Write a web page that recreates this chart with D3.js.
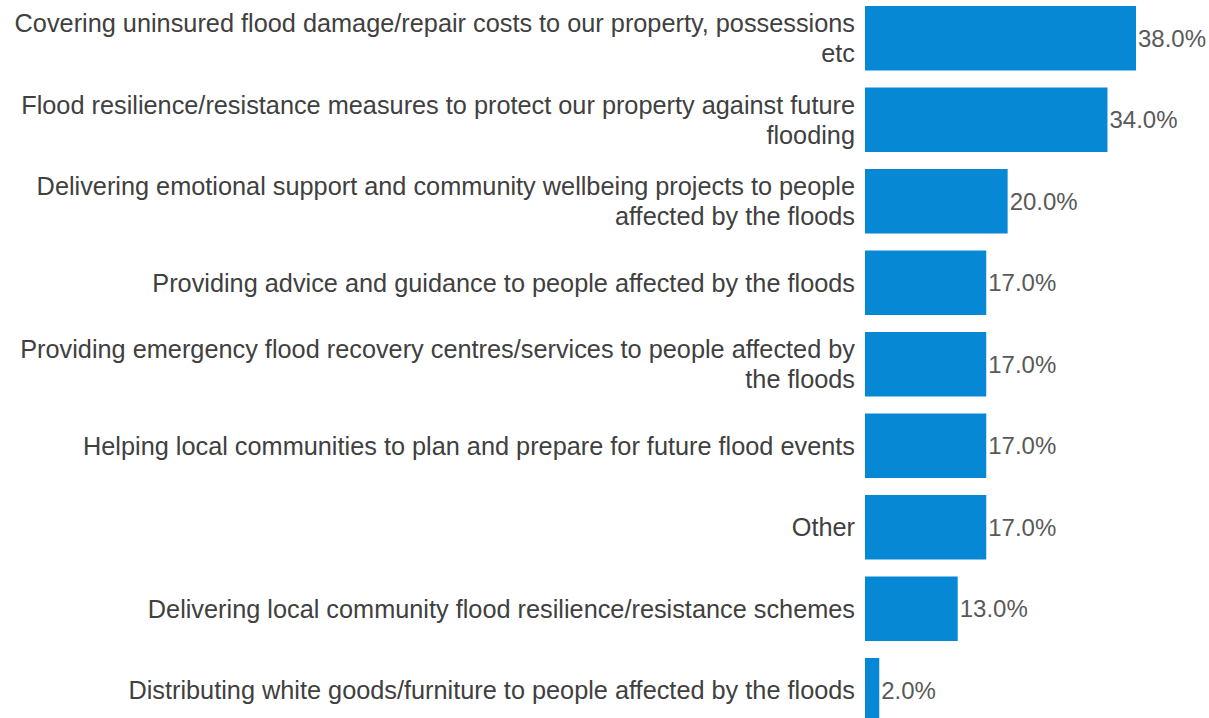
<!DOCTYPE html>
<html>
<head>
<meta charset="utf-8">
<script src="https://cdn.jsdelivr.net/npm/d3@7"></script>
<style>
  html, body { margin: 0; padding: 0; background: #ffffff; }
  svg { display: block; font-family: "Liberation Sans", Arial, sans-serif; }
</style>
</head>
<body>
<svg id="chart" width="1209" height="718"></svg>
<script>
// Category labels (line breaks mark where each label wraps)
const categories = [
  "Covering uninsured flood damage/repair costs to our property, possessions\netc",
  "Flood resilience/resistance measures to protect our property against future\nflooding",
  "Delivering emotional support and community wellbeing projects to people\naffected by the floods",
  "Providing advice and guidance to people affected by the floods",
  "Providing emergency flood recovery centres/services to people affected by\nthe floods",
  "Helping local communities to plan and prepare for future flood events",
  "Other",
  "Delivering local community flood resilience/resistance schemes",
  "Distributing white goods/furniture to people affected by the floods"
];

// Share of responses (%)
const values = [38.0, 34.0, 20.0, 17.0, 17.0, 17.0, 17.0, 13.0, 2.0];

const svg = d3.select("#chart");

const x = d3.scaleLinear().domain([0, 38]).range([865, 1136]);
const y = d3.scaleBand()
  .domain(d3.range(categories.length))
  .range([6, 722.5])
  .paddingInner(0.2086)
  .paddingOuter(0);

const rows = categories.map((c, i) => ({ label: c, value: values[i], i }));

// Bars
svg.append("g")
  .selectAll("rect")
  .data(rows)
  .join("rect")
  .attr("x", x(0))
  .attr("y", d => y(d.i))
  .attr("width", d => x(d.value) - x(0))
  .attr("height", y.bandwidth())
  .attr("fill", "#0788d4");

// Value labels
svg.append("g")
  .selectAll("text")
  .data(rows)
  .join("text")
  .attr("x", d => x(d.value) + 2)
  .attr("y", d => y(d.i) + y.bandwidth() / 2)
  .attr("dy", "0.35em")
  .attr("font-size", 24)
  .attr("fill", "#595959")
  .text(d => d.value.toFixed(1) + "%");

// Category labels, right-aligned beside the bars
const lineH = 30;
const lab = svg.append("g")
  .selectAll("text")
  .data(rows)
  .join("text")
  .attr("text-anchor", "end")
  .attr("font-size", 25.3)
  .attr("fill", "#404040");

lab.each(function(d) {
  const lines = d.label.split("\n");
  const cy = y(d.i) + y.bandwidth() / 2;
  const start = cy - (lines.length - 1) * lineH / 2;
  d3.select(this).selectAll("tspan")
    .data(lines)
    .join("tspan")
    .attr("x", 855)
    .attr("y", (l, k) => start + k * lineH)
    .attr("dy", "0.35em")
    .text(l => l);
});
</script>
</body>
</html>
